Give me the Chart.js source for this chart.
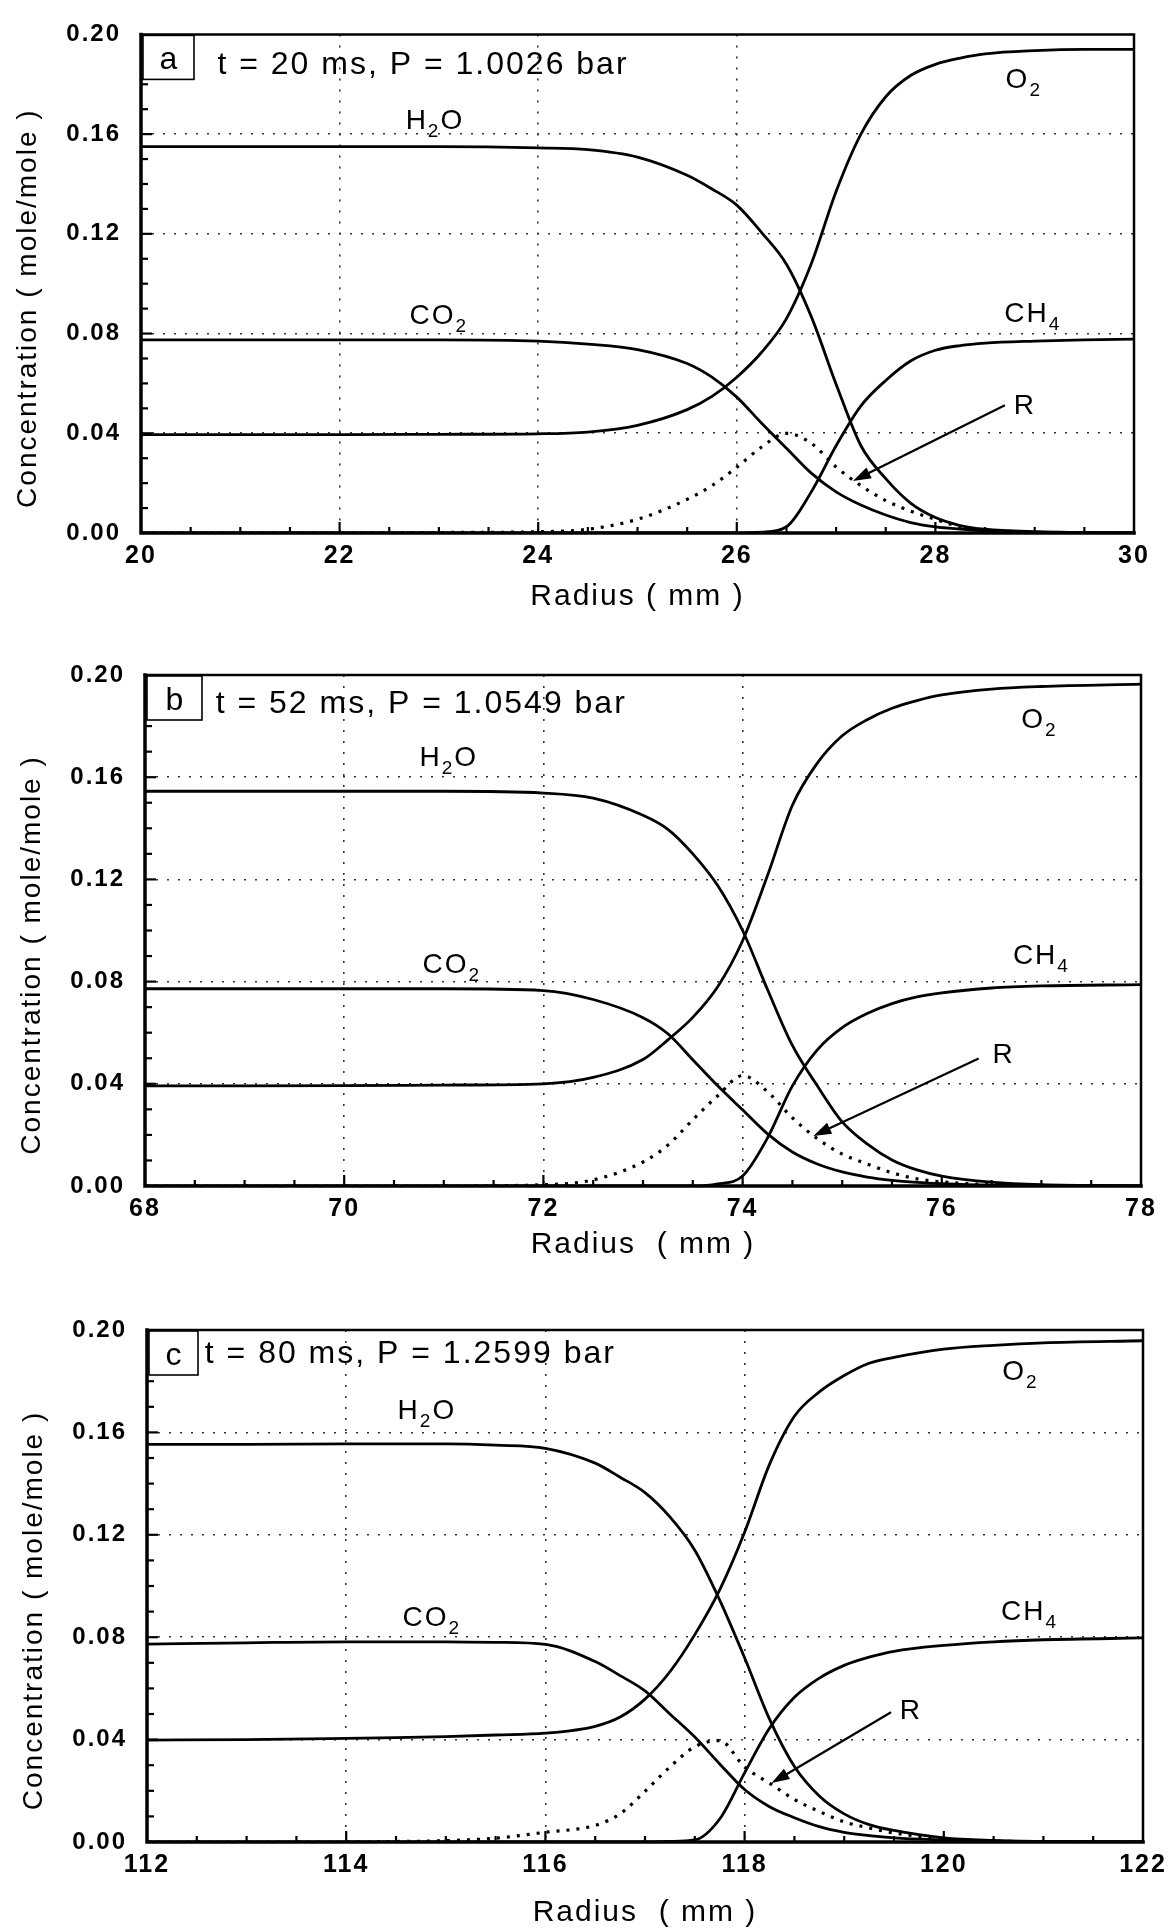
<!DOCTYPE html>
<html>
<head>
<meta charset="utf-8">
<script src="https://cdn.jsdelivr.net/npm/chart.js@4.4.0/dist/chart.umd.min.js"></script>
<style>
  html, body { margin: 0; padding: 0; background: #fff; }
  body { width: 1175px; height: 1931px; position: relative; overflow: hidden; }
  canvas { position: absolute; left: 0; }
</style>
</head>
<body>
<canvas id="ca" width="1175" height="640" style="top:0px"></canvas>
<canvas id="cb" width="1175" height="650" style="top:640px"></canvas>
<canvas id="cc" width="1175" height="641" style="top:1290px"></canvas>
<script>
// ---- panel a : t = 20 ms ----
const radiusA = [20, 21, 22, 23, 24, 24.5, 25, 25.5, 25.75, 26, 26.25, 26.5, 26.75, 27, 27.25, 27.5, 27.75, 28, 28.25, 28.5, 29, 29.5, 30];
const h2oA = [0.155, 0.155, 0.155, 0.155, 0.1545, 0.1538, 0.1508, 0.1435, 0.138, 0.1315, 0.1205, 0.1078, 0.0868, 0.0597, 0.035, 0.0218, 0.012, 0.0062, 0.003, 0.0015, 0.0005, 0.0002, 0];
const co2A = [0.0775, 0.0775, 0.0775, 0.0775, 0.077, 0.0758, 0.0736, 0.068, 0.0625, 0.0545, 0.044, 0.034, 0.024, 0.0165, 0.0112, 0.0072, 0.0042, 0.0025, 0.0016, 0.0009, 0.0003, 0.0001, 0];
const o2A = [0.0395, 0.0395, 0.0395, 0.0396, 0.0398, 0.0405, 0.0432, 0.0495, 0.0548, 0.0625, 0.0725, 0.086, 0.108, 0.137, 0.16, 0.175, 0.1835, 0.188, 0.1905, 0.1922, 0.1935, 0.194, 0.194];
const ch4A = [0, 0, 0, 0, 0, 0, 0, 0, 0, 0, 0.0003, 0.0025, 0.0165, 0.035, 0.051, 0.0612, 0.069, 0.0733, 0.0752, 0.0762, 0.077, 0.0775, 0.0778];
const rA = [0, 0, 0, 0.0002, 0.0005, 0.0015, 0.0055, 0.0135, 0.019, 0.0264, 0.0345, 0.04, 0.036, 0.0265, 0.019, 0.013, 0.0088, 0.0055, 0.0025, 0.0012, 0.0003, 0, 0];

// ---- panel b : t = 52 ms ----
const radiusB = [68, 69, 70, 71, 72, 72.5, 73, 73.25, 73.5, 73.75, 74, 74.25, 74.5, 74.75, 75, 75.25, 75.5, 75.75, 76, 76.5, 77, 78];
const h2oB = [0.1545, 0.1545, 0.1545, 0.1545, 0.1538, 0.1518, 0.1451, 0.1396, 0.13, 0.1176, 0.1, 0.0769, 0.055, 0.0392, 0.0251, 0.0165, 0.0102, 0.0063, 0.0039, 0.0015, 0.0005, 0];
const co2B = [0.0772, 0.0772, 0.0772, 0.0772, 0.0765, 0.073, 0.0659, 0.0596, 0.0494, 0.0392, 0.0298, 0.0204, 0.0133, 0.0086, 0.0055, 0.0035, 0.0022, 0.0014, 0.0009, 0.0003, 0.0001, 0];
const o2B = [0.0392, 0.0392, 0.0393, 0.0395, 0.04, 0.0425, 0.0495, 0.0572, 0.066, 0.078, 0.096, 0.1215, 0.149, 0.1655, 0.1762, 0.1825, 0.187, 0.19, 0.1922, 0.1945, 0.1955, 0.1964];
const ch4B = [0, 0, 0, 0, 0, 0, 0, 0, 0, 0.0008, 0.0039, 0.0188, 0.0392, 0.0533, 0.062, 0.0675, 0.0714, 0.074, 0.0756, 0.0775, 0.0783, 0.0788];
const rB = [0, 0, 0, 0, 0.0005, 0.0024, 0.0094, 0.016, 0.0259, 0.0353, 0.0432, 0.0369, 0.0267, 0.0185, 0.0125, 0.0086, 0.0052, 0.0028, 0.0016, 0.0005, 0.0001, 0];

// ---- panel c : t = 80 ms ----
const radiusC = [112, 113, 114, 114.5, 115, 115.5, 116, 116.5, 116.75, 117, 117.25, 117.5, 117.75, 118, 118.25, 118.5, 118.75, 119, 119.25, 119.5, 120, 120.5, 121, 122];
const h2oC = [0.1553, 0.1553, 0.1555, 0.1555, 0.1555, 0.155, 0.1538, 0.148, 0.1425, 0.1365, 0.127, 0.114, 0.0945, 0.072, 0.048, 0.0295, 0.018, 0.011, 0.0068, 0.0045, 0.0016, 0.0006, 0.0002, 0];
const co2C = [0.0773, 0.0778, 0.0782, 0.0782, 0.0782, 0.078, 0.0772, 0.0705, 0.065, 0.059, 0.05, 0.041, 0.0305, 0.0205, 0.0138, 0.0095, 0.006, 0.0038, 0.0025, 0.0016, 0.0008, 0.0003, 0.0001, 0];
const o2C = [0.0398, 0.04, 0.0405, 0.0408, 0.0412, 0.0418, 0.0425, 0.0452, 0.0488, 0.0558, 0.0665, 0.081, 0.0985, 0.121, 0.1475, 0.1663, 0.1758, 0.1822, 0.187, 0.1893, 0.1925, 0.194, 0.195, 0.1958];
const ch4C = [0, 0, 0, 0, 0, 0, 0, 0, 0, 0, 0.0002, 0.0008, 0.009, 0.027, 0.0444, 0.0565, 0.064, 0.069, 0.0722, 0.0745, 0.0768, 0.0782, 0.079, 0.0797];
const rC = [0, 0, 0, 0.0002, 0.0005, 0.0015, 0.0038, 0.0065, 0.011, 0.0198, 0.0293, 0.0372, 0.0396, 0.0293, 0.023, 0.0166, 0.0119, 0.0079, 0.0055, 0.0035, 0.0013, 0.0004, 0.0001, 0];

// axis ticks / texts
const yTicks = [0, 0.04, 0.08, 0.12, 0.16, 0.2];
const xTicksA = [20, 22, 24, 26, 28, 30];
const xTicksB = [68, 70, 72, 74, 76, 78];
const xTicksC = [112, 114, 116, 118, 120, 122];
const gridA = [22, 24, 26];
const gridB = [70, 72, 74];
const gridC = [114, 116, 118];
const yTitle = 'Concentration ( mole/mole )';
const xTitle = 'Radius ( mm )';

// species labels ("_" marks a subscript) and where they sit, in data units
const species = ['H_2O', 'CO_2', 'O_2', 'CH_4', 'R'];
const labelXA = [22.96, 23.0, 28.89, 28.98, 28.9];
const labelYA = [0.166, 0.088, 0.1826, 0.0888, 0.0516];
const labelXB = [71.05, 71.08, 76.98, 77.0, 76.62];
const labelYB = [0.1682, 0.0874, 0.1832, 0.0907, 0.0522];
const labelXC = [114.81, 114.86, 120.77, 120.86, 119.67];
const labelYC = [0.169, 0.0883, 0.1842, 0.0908, 0.052];
// arrow from the R label to the R curve: x0, y0, x1, y1
const arrowA = [28.7, 0.0512, 27.17, 0.0209];
const arrowB = [76.37, 0.0499, 74.71, 0.0196];
const arrowC = [119.47, 0.0507, 118.27, 0.023];
const tags = ['a', 'b', 'c'];
const infos = ['t = 20 ms, P = 1.0026 bar', 't = 52 ms, P = 1.0549 bar', 't = 80 ms, P = 1.2599 bar'];
const infoX = [20.77, 68.71, 112.58];
const infoY = [0.1843, 0.185, 0.187];

const FONT = '"Liberation Sans", Arial, Helvetica, sans-serif';
Chart.defaults.font.family = FONT;
Chart.defaults.color = '#000';

function drawFormula(ctx, str, cx, cy) {
  const parts = [];
  for (let i = 0; i < str.length; i++) {
    if (str[i] === '_') { parts.push({ t: str[i + 1], sub: true }); i++; }
    else parts.push({ t: str[i], sub: false });
  }
  let w = 0;
  parts.forEach(p => {
    ctx.font = p.sub ? '19px ' + FONT : '28px ' + FONT;
    p.w = ctx.measureText(p.t).width;
    w += p.w;
  });
  let x = cx - w / 2;
  const base = cy + 10;
  parts.forEach(p => {
    ctx.font = p.sub ? '19px ' + FONT : '28px ' + FONT;
    ctx.fillText(p.t, x, p.sub ? base + 8 : base);
    x += p.w;
  });
}

const panelDecor = {
  id: 'panelDecor',
  beforeDraw(chart) {
    chart.ctx.letterSpacing = '2px';
  },
  afterDatasetsDraw(chart, args, o) {
    const ctx = chart.ctx;
    const xs = chart.scales.x, ys = chart.scales.y;
    const a = chart.chartArea;
    ctx.save();
    ctx.strokeStyle = '#000';
    ctx.fillStyle = '#000';

    // inward ticks
    ctx.lineWidth = 2.2;
    const nx = Math.round((xs.max - xs.min) / 0.5);
    for (let i = 1; i < nx; i++) {
      const px = xs.getPixelForValue(xs.min + i * 0.5);
      const len = i % 4 === 0 ? 11 : 6;
      ctx.beginPath(); ctx.moveTo(px, a.bottom); ctx.lineTo(px, a.bottom - len); ctx.stroke();
    }
    for (let i = 1; i < 20; i++) {
      const py = ys.getPixelForValue(i * 0.01);
      const len = i % 4 === 0 ? 11 : 7;
      ctx.beginPath(); ctx.moveTo(a.left, py); ctx.lineTo(a.left + len, py); ctx.stroke();
    }

    // frame
    ctx.lineCap = 'square';
    ctx.lineWidth = 2.5;
    ctx.beginPath(); ctx.moveTo(a.left, a.top); ctx.lineTo(a.right, a.top); ctx.lineTo(a.right, a.bottom); ctx.stroke();
    ctx.lineWidth = 3.5;
    ctx.beginPath(); ctx.moveTo(a.left, a.top); ctx.lineTo(a.left, a.bottom); ctx.lineTo(a.right, a.bottom); ctx.stroke();

    // panel tag box
    ctx.lineCap = 'butt';
    ctx.fillStyle = '#fff';
    ctx.fillRect(a.left + 2, a.top + 1, o.boxW, 44);
    ctx.lineWidth = 1.6;
    ctx.strokeRect(a.left + 2, a.top + 1, o.boxW, 44);
    ctx.fillStyle = '#000';
    ctx.font = '32px ' + FONT;
    ctx.textAlign = 'center';
    ctx.textBaseline = 'alphabetic';
    ctx.fillText(o.tag, a.left + 3 + o.boxW / 2, a.top + 35);

    // time / pressure
    ctx.textAlign = 'left';
    ctx.fillText(o.info, xs.getPixelForValue(o.infoX), ys.getPixelForValue(o.infoY));

    // species labels
    o.lx.forEach((v, i) => drawFormula(ctx, species[i], xs.getPixelForValue(v), ys.getPixelForValue(o.ly[i])));

    // arrow to R
    const x0 = xs.getPixelForValue(o.arrow[0]), y0 = ys.getPixelForValue(o.arrow[1]);
    const x1 = xs.getPixelForValue(o.arrow[2]), y1 = ys.getPixelForValue(o.arrow[3]);
    const ang = Math.atan2(y1 - y0, x1 - x0);
    ctx.lineWidth = 2.2;
    ctx.beginPath(); ctx.moveTo(x0, y0);
    ctx.lineTo(x1 - 12 * Math.cos(ang), y1 - 12 * Math.sin(ang)); ctx.stroke();
    ctx.beginPath();
    ctx.moveTo(x1, y1);
    ctx.lineTo(x1 - 18 * Math.cos(ang) + 6 * Math.sin(ang), y1 - 18 * Math.sin(ang) - 6 * Math.cos(ang));
    ctx.lineTo(x1 - 18 * Math.cos(ang) - 6 * Math.sin(ang), y1 - 18 * Math.sin(ang) + 6 * Math.cos(ang));
    ctx.closePath(); ctx.fill();
    ctx.restore();
  }
};

function series(xs, ys, dotted) {
  return {
    data: xs.map((x, i) => ({ x: x, y: ys[i] })),
    borderColor: '#000',
    borderWidth: dotted ? 3.2 : 2.8,
    borderDash: dotted ? [3, 7] : [],
    pointRadius: 0,
    cubicInterpolationMode: 'monotone',
    fill: false
  };
}

function makePanel(p) {
  const H = p.canvasH;
  new Chart(document.getElementById(p.id), {
    type: 'line',
    data: {
      datasets: [
        series(p.r, p.h2o), series(p.r, p.co2), series(p.r, p.o2),
        series(p.r, p.ch4), series(p.r, p.rad, true)
      ]
    },
    options: {
      responsive: false,
      animation: false,
      events: [],
      layout: { padding: { top: p.top - p.canvasTop, right: 1175 - p.right, left: 0, bottom: 0 } },
      plugins: {
        legend: { display: false },
        tooltip: { enabled: false },
        panelDecor: {
          tag: p.tag, boxW: p.boxW, info: p.info, infoX: p.infoX, infoY: p.infoY,
          lx: p.lx, ly: p.ly, arrow: p.arrow
        }
      },
      scales: {
        x: {
          type: 'linear',
          min: p.xTicks[0],
          max: p.xTicks[p.xTicks.length - 1],
          afterBuildTicks: s => { s.ticks = p.xTicks.map(v => ({ value: v })); },
          ticks: { padding: 8, font: { size: 25, weight: 'bold' }, color: '#000', maxRotation: 0 },
          grid: {
            drawTicks: false,
            lineWidth: 1.6,
            color: c => (c.tick && p.grid.includes(c.tick.value)) ? '#333' : 'rgba(0,0,0,0)'
          },
          border: { display: false, dash: [2, 9] },
          title: {
            display: true, text: p.xTitle, color: '#000',
            font: { size: 30 }, padding: { top: 0, bottom: p.xTitlePad }
          },
          afterFit: s => { s.height = H - (p.bottom - p.canvasTop); }
        },
        y: {
          min: 0,
          max: 0.2,
          afterBuildTicks: s => { s.ticks = yTicks.map(v => ({ value: v })); },
          ticks: { padding: 20, font: { size: 24, weight: 'bold' }, color: '#000', callback: v => v.toFixed(2) },
          grid: {
            drawTicks: false,
            lineWidth: 1.6,
            color: c => (c.tick && c.tick.value > 0.001 && c.tick.value < 0.199) ? '#333' : 'rgba(0,0,0,0)'
          },
          border: { display: false, dash: [2, 9] },
          title: {
            display: true, text: yTitle + '\u00a0\u00a0\u00a0\u00a0\u00a0', color: '#000',
            font: { size: 28 }, padding: { top: p.left - 113 - 16.8, bottom: 0 }
          },
          afterFit: s => { s.width = p.left; }
        }
      }
    },
    plugins: [panelDecor]
  });
}

makePanel({
  id: 'ca', canvasTop: 0, canvasH: 640, left: 141, right: 1134, top: 23, bottom: 533,
  xTitle: xTitle, xTitlePad: 25, boxW: 51,
  r: radiusA, h2o: h2oA, co2: co2A, o2: o2A, ch4: ch4A, rad: rA,
  xTicks: xTicksA, grid: gridA, lx: labelXA, ly: labelYA, arrow: arrowA,
  tag: tags[0], info: infos[0], infoX: infoX[0], infoY: infoY[0]
});
makePanel({
  id: 'cb', canvasTop: 640, canvasH: 650, left: 145, right: 1141, top: 675, bottom: 1186,
  xTitle: 'Radius  ( mm )', xTitlePad: 27, boxW: 55,
  r: radiusB, h2o: h2oB, co2: co2B, o2: o2B, ch4: ch4B, rad: rB,
  xTicks: xTicksB, grid: gridB, lx: labelXB, ly: labelYB, arrow: arrowB,
  tag: tags[1], info: infos[1], infoX: infoX[1], infoY: infoY[1]
});
makePanel({
  id: 'cc', canvasTop: 1290, canvasH: 641, left: 147, right: 1143, top: 1330, bottom: 1842,
  xTitle: 'Radius  ( mm )', xTitlePad: 0, boxW: 49,
  r: radiusC, h2o: h2oC, co2: co2C, o2: o2C, ch4: ch4C, rad: rC,
  xTicks: xTicksC, grid: gridC, lx: labelXC, ly: labelYC, arrow: arrowC,
  tag: tags[2], info: infos[2], infoX: infoX[2], infoY: infoY[2]
});
</script>
</body>
</html>
